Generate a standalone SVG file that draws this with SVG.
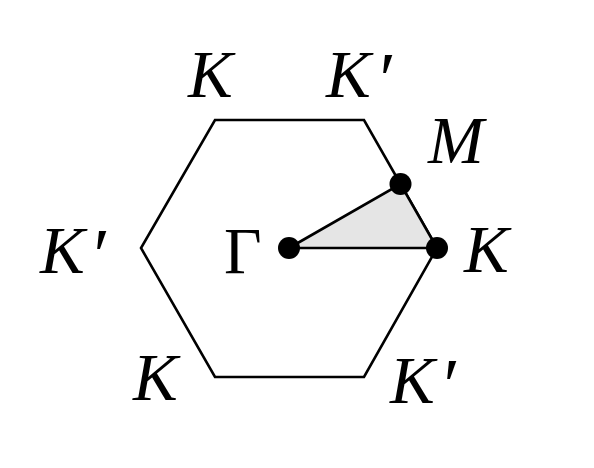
<svg xmlns="http://www.w3.org/2000/svg" width="594" height="468" viewBox="0 0 594 468">
<style>
.lbl{font-family:"Liberation Serif","Times New Roman",serif;font-style:italic;font-size:67px;fill:#000}
.up{font-family:"Liberation Serif","Times New Roman",serif;font-size:65px;fill:#000}
.pr{font-size:76px}
.ln{fill:none;stroke:#000;stroke-width:2.6;stroke-linejoin:miter}
.dot{fill:#000}
</style>
<rect width="594" height="468" fill="#fff"/>
<g id="connectors">
<polygon id="hexagon" class="ln" points="437,248 364,120 215,120 141,248 215,377 364,377"/>
<polygon id="wedge" points="289,248 400.5,184 437,248" fill="#e5e5e5" stroke="#000" stroke-width="2.6"/>
</g>
<g id="Gamma"><circle class="dot" cx="289" cy="248" r="11"/><text class="up" x="224" y="273">Γ</text></g>
<g id="M"><circle class="dot" cx="400.5" cy="184" r="11"/><text class="lbl" x="428" y="163">M</text></g>
<g id="K-right"><circle class="dot" cx="437" cy="248" r="11"/><text class="lbl" x="464" y="272">K</text></g>
<g id="K-top"><text class="lbl" x="188" y="97">K</text></g>
<g id="Kp-top"><text class="lbl" x="326" y="97">K<tspan class="pr" dx="4" dy="8">′</tspan></text></g>
<g id="Kp-left"><text class="lbl" x="40" y="273">K<tspan class="pr" dx="4" dy="8">′</tspan></text></g>
<g id="K-bottom"><text class="lbl" x="133" y="400">K</text></g>
<g id="Kp-bottom"><text class="lbl" x="390" y="403">K<tspan class="pr" dx="4" dy="8">′</tspan></text></g>
</svg>
